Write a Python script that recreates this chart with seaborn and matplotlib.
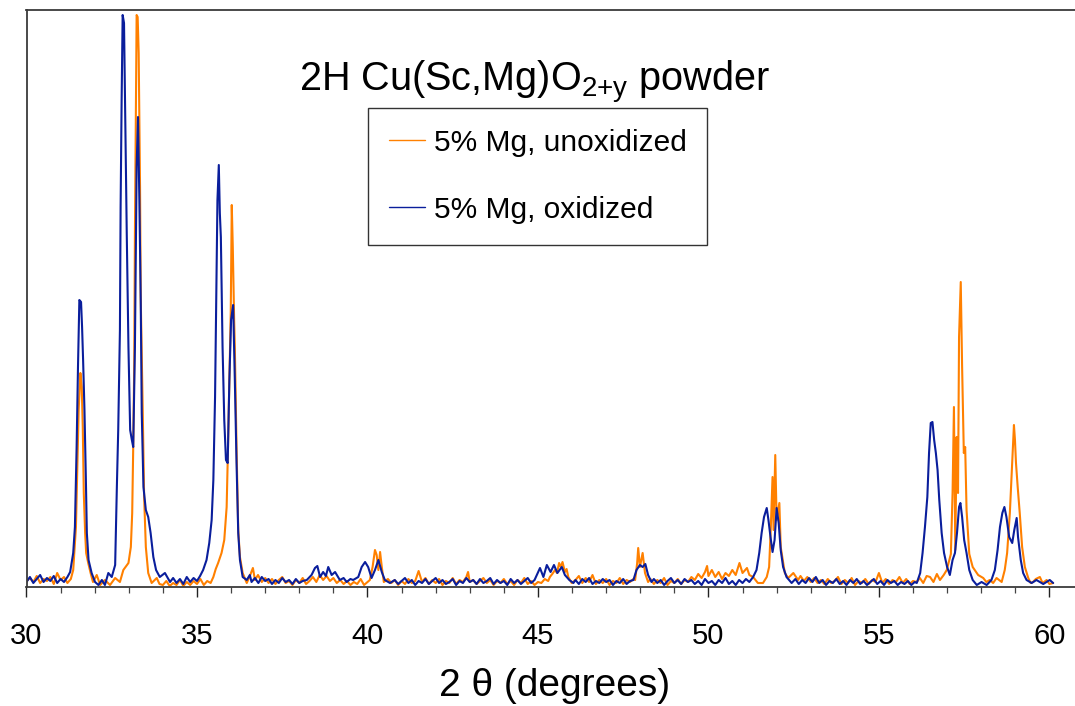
import matplotlib
matplotlib.use("Agg")
import matplotlib.pyplot as plt
import pandas as pd
import seaborn as sns

# ---- XRD pattern, 5% Mg, unoxidized (2-theta in degrees, intensity in counts) ----
unox_2theta = [
    30.0, 30.1, 30.2, 30.3, 30.4, 30.5, 30.6, 30.7, 30.8, 30.9, 31.0, 31.1, 31.2, 31.3,
    31.37, 31.45, 31.49, 31.53, 31.58, 31.62, 31.65, 31.68, 31.72, 31.75, 31.81, 31.88, 31.95, 32.06, 32.16, 32.30, 32.45, 32.60, 32.74, 32.84,
    32.99, 33.06, 33.10, 33.13, 33.16, 33.18, 33.21, 33.23, 33.26, 33.29, 33.33, 33.35, 33.41, 33.45, 33.50, 33.57, 33.67, 33.82,
    33.9, 34.0, 34.1, 34.2, 34.3, 34.4, 34.5, 34.6, 34.7, 34.8, 34.9, 35.0, 35.1, 35.2, 35.3, 35.4,
    35.48, 35.55, 35.62, 35.72, 35.80, 35.87, 35.91, 35.95, 35.99, 36.02, 36.05, 36.09, 36.11, 36.16, 36.21, 36.26, 36.34, 36.46, 36.55, 36.64, 36.70, 36.79,
    36.9, 37.0, 37.1, 37.2, 37.3, 37.4, 37.5, 37.6, 37.7, 37.8, 37.9, 38.0, 38.1, 38.2, 38.3, 38.4,
    38.5, 38.6, 38.7, 38.8, 38.9, 39.0, 39.1, 39.2, 39.3, 39.4, 39.5, 39.6, 39.7, 39.8, 39.9, 40.0,
    40.07, 40.15, 40.22, 40.27, 40.32, 40.37, 40.42, 40.48,
    40.6, 40.7, 40.8, 40.9, 41.0, 41.1, 41.2, 41.3, 41.4, 41.5, 41.6, 41.7, 41.8, 41.9, 42.0, 42.1, 42.2, 42.3, 42.4, 42.5, 42.6, 42.7, 42.8, 42.9, 42.95,
    43.0, 43.1, 43.2, 43.3, 43.4, 43.5, 43.6, 43.7, 43.8, 43.9, 44.0, 44.1, 44.2, 44.3, 44.4, 44.5, 44.6, 44.7, 44.8, 44.9, 45.0,
    45.1, 45.2, 45.3, 45.35, 45.42, 45.5, 45.56, 45.62, 45.67, 45.72, 45.79, 45.84, 45.89, 45.99,
    46.1, 46.2, 46.3, 46.4, 46.5, 46.6, 46.7, 46.8, 46.9, 47.0, 47.1, 47.2, 47.3, 47.4, 47.5, 47.6, 47.7, 47.8,
    47.85, 47.91, 47.94, 47.99, 48.07, 48.14, 48.23,
    48.3, 48.4, 48.5, 48.6, 48.7, 48.8, 48.9, 49.0, 49.1, 49.2, 49.3, 49.4, 49.5, 49.6,
    49.7, 49.8, 49.9, 49.96, 50.0, 50.1, 50.2, 50.3, 50.4, 50.5, 50.6, 50.7, 50.8, 50.91, 51.0, 51.13, 51.2,
    51.31, 51.45, 51.60, 51.71, 51.78, 51.83, 51.88, 51.91, 51.96, 52.00, 52.08, 52.12, 52.18, 52.24, 52.34, 52.49, 52.63,
    52.7, 52.8, 52.9, 53.0, 53.1, 53.2, 53.3, 53.4, 53.5, 53.6, 53.7, 53.8, 53.9, 54.0, 54.1, 54.2, 54.3,
    54.4, 54.5, 54.6, 54.7, 54.8, 54.9, 55.0, 55.1, 55.2, 55.3, 55.4, 55.5, 55.6, 55.7, 55.8, 55.9, 56.0,
    56.11, 56.2, 56.3, 56.4, 56.5, 56.6, 56.7, 56.79, 56.9,
    56.99, 57.11, 57.16, 57.20, 57.24, 57.28, 57.32, 57.35, 57.40, 57.44, 57.49, 57.53, 57.57, 57.65, 57.75, 57.91, 58.06, 58.15, 58.25, 58.35, 58.45, 58.60,
    58.69, 58.76, 58.84, 58.89, 58.93, 58.96, 58.99, 59.02, 59.07, 59.13, 59.20, 59.28, 59.38, 59.45, 59.52, 59.60, 59.72, 59.80, 59.92, 60.00, 60.11,
]
unox_counts = [
    12, 18, 10, 22, 8, 16, 12, 20, 6, 28, 14, 20, 8, 16,
    34, 120, 240, 354, 428, 400, 320, 188, 108, 68, 48, 28, 10, 24, 4, 14, 4, 18, 10, 34,
    48, 80, 148, 280, 448, 708, 974, 1144, 1140, 1068, 800, 580, 348, 180, 80, 28, 8, 18,
    6, 4, 12, 2, 8, 4, 14, 2, 10, 4, 12, 6, 16, 4, 12, 8,
    20, 36, 48, 68, 94, 160, 280, 414, 548, 764, 680, 534, 480, 280, 114, 60, 28, 8, 22, 38, 14, 24,
    10, 18, 8, 16, 6, 14, 20, 8, 12, 4, 14, 8, 18, 6, 12, 20,
    10, 24, 14, 22, 12, 18, 8, 14, 6, 12, 4, 10, 6, 16, 4, 10,
    14, 40, 74, 64, 34, 70, 40, 10,
    16, 8, 14, 4, 12, 6, 16, 8, 12, 32, 10, 18, 6, 14, 8, 16, 4, 12, 8, 18, 6, 14, 10, 20, 30,
    10, 14, 6, 12, 18, 8, 14, 4, 12, 8, 16, 6, 12, 4, 14, 8, 18, 6, 12, 4, 10,
    8, 16, 12, 20, 26, 34, 28, 48, 40, 50, 30, 36, 20, 8,
    14, 22, 8, 18, 10, 24, 6, 14, 8, 16, 4, 12, 8, 18, 6, 14, 10, 16,
    14, 48, 78, 40, 68, 28, 10,
    16, 6, 14, 8, 18, 4, 12, 8, 16, 6, 14, 10, 20, 14,
    26, 18, 30, 42, 22, 34, 20, 30, 16, 28, 22, 34, 24, 48, 28, 38, 24,
    20, 8, 8, 20, 40, 120, 220, 114, 264, 134, 168, 80, 54, 28, 18, 28, 14,
    22, 12, 20, 10, 18, 8, 14, 6, 16, 8, 12, 20, 6, 14, 8, 18, 4,
    12, 8, 16, 6, 14, 10, 28, 8, 16, 6, 14, 10, 20, 8, 16, 6, 12,
    10, 18, 8, 22, 20, 10, 26, 14, 24,
    34, 66, 188, 360, 74, 300, 188, 500, 610, 440, 268, 280, 154, 66, 40, 24, 18, 10, 14, 8, 18, 10,
    34, 68, 148, 220, 280, 324, 294, 248, 200, 148, 80, 40, 18, 8, 10, 16, 20, 8, 14, 6, 8,
]

# ---- XRD pattern, 5% Mg, oxidized ----
ox_2theta = [
    30.0, 30.1, 30.2, 30.3, 30.4, 30.5, 30.6, 30.7, 30.8, 30.9, 31.0, 31.1, 31.2,
    31.28, 31.37, 31.42, 31.47, 31.51, 31.55, 31.60, 31.63, 31.66, 31.70, 31.74, 31.77, 31.82, 31.91, 32.01, 32.11, 32.21, 32.30, 32.40, 32.50, 32.60,
    32.65, 32.69, 32.74, 32.76, 32.79, 32.82, 32.86, 32.89, 32.94, 32.99, 33.04, 33.09, 33.13, 33.18,
    33.23, 33.27, 33.31, 33.35, 33.38, 33.43, 33.50, 33.57, 33.64, 33.72, 33.80, 33.91, 34.06, 34.21,
    34.3, 34.4, 34.5, 34.6, 34.7, 34.8, 34.9, 35.0, 35.09,
    35.18, 35.28, 35.36, 35.43, 35.48, 35.53, 35.56, 35.60, 35.64, 35.67, 35.70, 35.75,
    35.80, 35.85, 35.90, 35.95, 36.00, 36.06, 36.11, 36.16, 36.21, 36.26, 36.34, 36.46,
    36.55, 36.6, 36.7, 36.8, 36.9, 37.0, 37.1, 37.2, 37.3, 37.4, 37.5, 37.6, 37.7, 37.8, 37.9, 38.0, 38.1,
    38.22, 38.36, 38.46, 38.53, 38.61, 38.70, 38.78, 38.85, 38.95, 39.05, 39.19, 39.30, 39.39,
    39.50, 39.58, 39.73, 39.83, 39.93, 40.02, 40.12, 40.22, 40.32, 40.42, 40.51, 40.66,
    40.8, 40.9, 41.0, 41.1, 41.2, 41.3, 41.4, 41.5, 41.6, 41.7, 41.8, 41.9, 42.0, 42.1,
    42.2, 42.3, 42.4, 42.5, 42.6, 42.7, 42.8, 42.9, 43.0, 43.1, 43.2, 43.3, 43.4, 43.5,
    43.6, 43.7, 43.8, 43.9, 44.0, 44.1, 44.2, 44.3, 44.4, 44.5, 44.6, 44.7, 44.8, 44.9,
    45.06, 45.16, 45.26, 45.37, 45.47, 45.57, 45.70, 45.79, 45.92, 46.04,
    46.1, 46.2, 46.3, 46.4, 46.5, 46.6, 46.7, 46.8, 46.9, 47.0, 47.1, 47.2, 47.3, 47.4, 47.5, 47.6, 47.7,
    47.80, 47.89, 47.99, 48.07, 48.15, 48.23, 48.33,
    48.4, 48.5, 48.6, 48.7, 48.8, 48.9, 49.0, 49.1, 49.2, 49.3,
    49.4, 49.5, 49.6, 49.7, 49.8, 49.9, 50.0, 50.1, 50.2, 50.3,
    50.4, 50.5, 50.6, 50.7, 50.8, 50.9, 51.0, 51.1, 51.2,
    51.31, 51.41, 51.49, 51.56, 51.63, 51.71, 51.76, 51.82, 51.88, 51.94, 52.00, 52.06, 52.12, 52.19, 52.29, 52.44,
    52.55, 52.65, 52.75, 52.85, 52.95, 53.05, 53.15, 53.25, 53.35, 53.45,
    53.55, 53.65, 53.75, 53.85, 53.95, 54.05, 54.15, 54.25, 54.35, 54.45,
    54.55, 54.65, 54.75, 54.85, 54.95, 55.05, 55.15, 55.25, 55.35, 55.45,
    55.55, 55.65, 55.75, 55.85, 55.95, 56.05, 56.11,
    56.21, 56.28, 56.35, 56.42, 56.47, 56.52, 56.57, 56.62, 56.67, 56.72, 56.77, 56.84, 56.91,
    57.00, 57.08, 57.16, 57.23, 57.29, 57.35, 57.39, 57.44, 57.50, 57.57, 57.65, 57.75, 57.87,
    58.01, 58.16, 58.30, 58.40, 58.48, 58.55, 58.62, 58.68, 58.74, 58.82, 58.91,
    58.97, 59.04, 59.08, 59.16, 59.23, 59.33, 59.48, 59.62, 59.82, 60.01, 60.11,
]
ox_counts = [
    10, 20, 8, 16, 24, 10, 18, 12, 22, 8, 16, 10, 20,
    30, 68, 120, 280, 440, 574, 570, 520, 454, 354, 220, 108, 54, 28, 10, 4, 14, 4, 28, 20, 44,
    200, 314, 514, 760, 974, 1144, 1128, 974, 708, 480, 314, 294, 280, 480,
    840, 940, 774, 574, 348, 200, 154, 140, 108, 60, 34, 20, 28, 10,
    18, 8, 16, 6, 20, 10, 18, 12, 22,
    34, 54, 88, 134, 214, 380, 548, 774, 844, 748, 700, 480,
    334, 254, 248, 414, 534, 564, 414, 248, 108, 54, 20, 14,
    24, 10, 18, 8, 20, 12, 16, 6, 14, 8, 18, 10, 14, 6, 16, 8, 12,
    14, 24, 38, 42, 20, 30, 22, 40, 24, 30, 14, 18, 10,
    16, 14, 20, 40, 50, 40, 18, 34, 54, 30, 14, 8,
    14, 6, 12, 18, 8, 14, 4, 12, 8, 16, 6, 12, 18, 8,
    14, 6, 10, 16, 4, 12, 8, 18, 10, 14, 6, 16, 8, 12,
    18, 6, 14, 8, 12, 4, 16, 8, 14, 6, 12, 18, 8, 14,
    38, 20, 44, 30, 44, 28, 40, 24, 14, 8,
    14, 6, 16, 10, 18, 6, 12, 8, 16, 10, 14, 4, 12, 8, 16, 6, 12,
    14, 34, 44, 40, 46, 24, 10,
    16, 8, 14, 4, 12, 18, 8, 14, 6, 16,
    10, 14, 6, 12, 4, 16, 8, 12, 4, 14,
    8, 18, 6, 12, 4, 14, 8, 16, 10,
    20, 34, 68, 108, 140, 158, 134, 100, 70, 94, 158, 128, 74, 40, 20, 8,
    16, 6, 14, 8, 18, 10, 20, 8, 14, 4,
    12, 8, 16, 6, 12, 4, 14, 8, 16, 6,
    12, 4, 10, 16, 6, 12, 4, 14, 8, 12,
    4, 10, 6, 12, 4, 10, 8,
    28, 68, 120, 180, 268, 328, 330, 294, 268, 234, 174, 108, 68,
    40, 24, 54, 68, 108, 160, 168, 140, 94, 68, 34, 14, 4,
    10, 4, 14, 34, 74, 120, 148, 160, 140, 100, 88,
    114, 138, 100, 54, 28, 14, 8, 14, 6, 14, 8,
]

sample_labels = ["5% Mg, unoxidized", "5% Mg, oxidized"]
sample_colors = ["#FF8000", "#0A1E9C"]
major_ticks = [30, 35, 40, 45, 50, 55, 60]
minor_ticks = list(range(30, 61))
title_text = r"2H Cu(Sc,Mg)O$_{\mathregular{2{+}y}}$ powder"
x_label = "2 θ (degrees)"

assert len(unox_2theta) == len(unox_counts)
assert len(ox_2theta) == len(ox_counts)

sns.set_style("ticks")
plt.rcParams["font.family"] = ["Liberation Sans", "DejaVu Sans"]
plt.rcParams["mathtext.fontset"] = "custom"
plt.rcParams["mathtext.rm"] = "Liberation Sans"
plt.rcParams["mathtext.it"] = "Liberation Sans:italic"
plt.rcParams["text.color"] = "black"
plt.rcParams["axes.labelcolor"] = "black"
plt.rcParams["xtick.color"] = "black"
plt.rcParams["xtick.labelcolor"] = "black"

frames = [
    pd.DataFrame({"two_theta": unox_2theta, "counts": unox_counts, "sample": sample_labels[0]}),
    pd.DataFrame({"two_theta": ox_2theta, "counts": ox_counts, "sample": sample_labels[1]}),
]
df = pd.concat(frames, ignore_index=True)

fig = plt.figure(figsize=(10.75, 7.06), dpi=100)
# plot frame runs past the right edge of the figure
ax = fig.add_axes([26.5 / 1075, 119 / 706, 1057 / 1075, 577 / 706])

sns.lineplot(
    data=df, x="two_theta", y="counts", hue="sample",
    hue_order=sample_labels, palette=dict(zip(sample_labels, sample_colors)),
    estimator=None, sort=False, linewidth=1.5, ax=ax,
)

ax.set_xlim(30, 61)
ax.set_ylim(0, 1154)
ax.set_xticks(major_ticks)
ax.set_xticks(minor_ticks, minor=True)
ax.set_yticks([])
ax.tick_params(axis="x", which="major", direction="out", length=7, width=1.0,
               color="#222222", labelsize=21, pad=18)
ax.tick_params(axis="x", which="minor", direction="out", length=4.5, width=0.9,
               color="#444444")
ax.set_xlabel(x_label, fontsize=28, labelpad=13)
ax.set_ylabel("")

for side in ("left", "top", "bottom"):
    ax.spines[side].set_visible(True)
    ax.spines[side].set_color("#3a3a3a")
    ax.spines[side].set_linewidth(1.3)
ax.spines["right"].set_visible(False)

handles, labels = ax.get_legend_handles_labels()
leg = ax.legend(
    handles, labels, loc="upper left",
    bbox_to_anchor=(368 / 1075, 1 - 108 / 706), bbox_transform=fig.transFigure,
    borderaxespad=0, fontsize=21.5, frameon=True, fancybox=False, framealpha=1,
    edgecolor="#333333", handlelength=1.2, handletextpad=0.3,
    borderpad=0.7, labelspacing=1.3,
)
leg.get_frame().set_linewidth(1.0)
for line in leg.get_lines():
    line.set_linewidth(1.0)
for text in leg.get_texts():
    text.set_color("black")

fig.text(535 / 1075, 1 - 83 / 706, title_text, ha="center", va="center", fontsize=28.5)

fig.savefig("out.png", dpi=100)
